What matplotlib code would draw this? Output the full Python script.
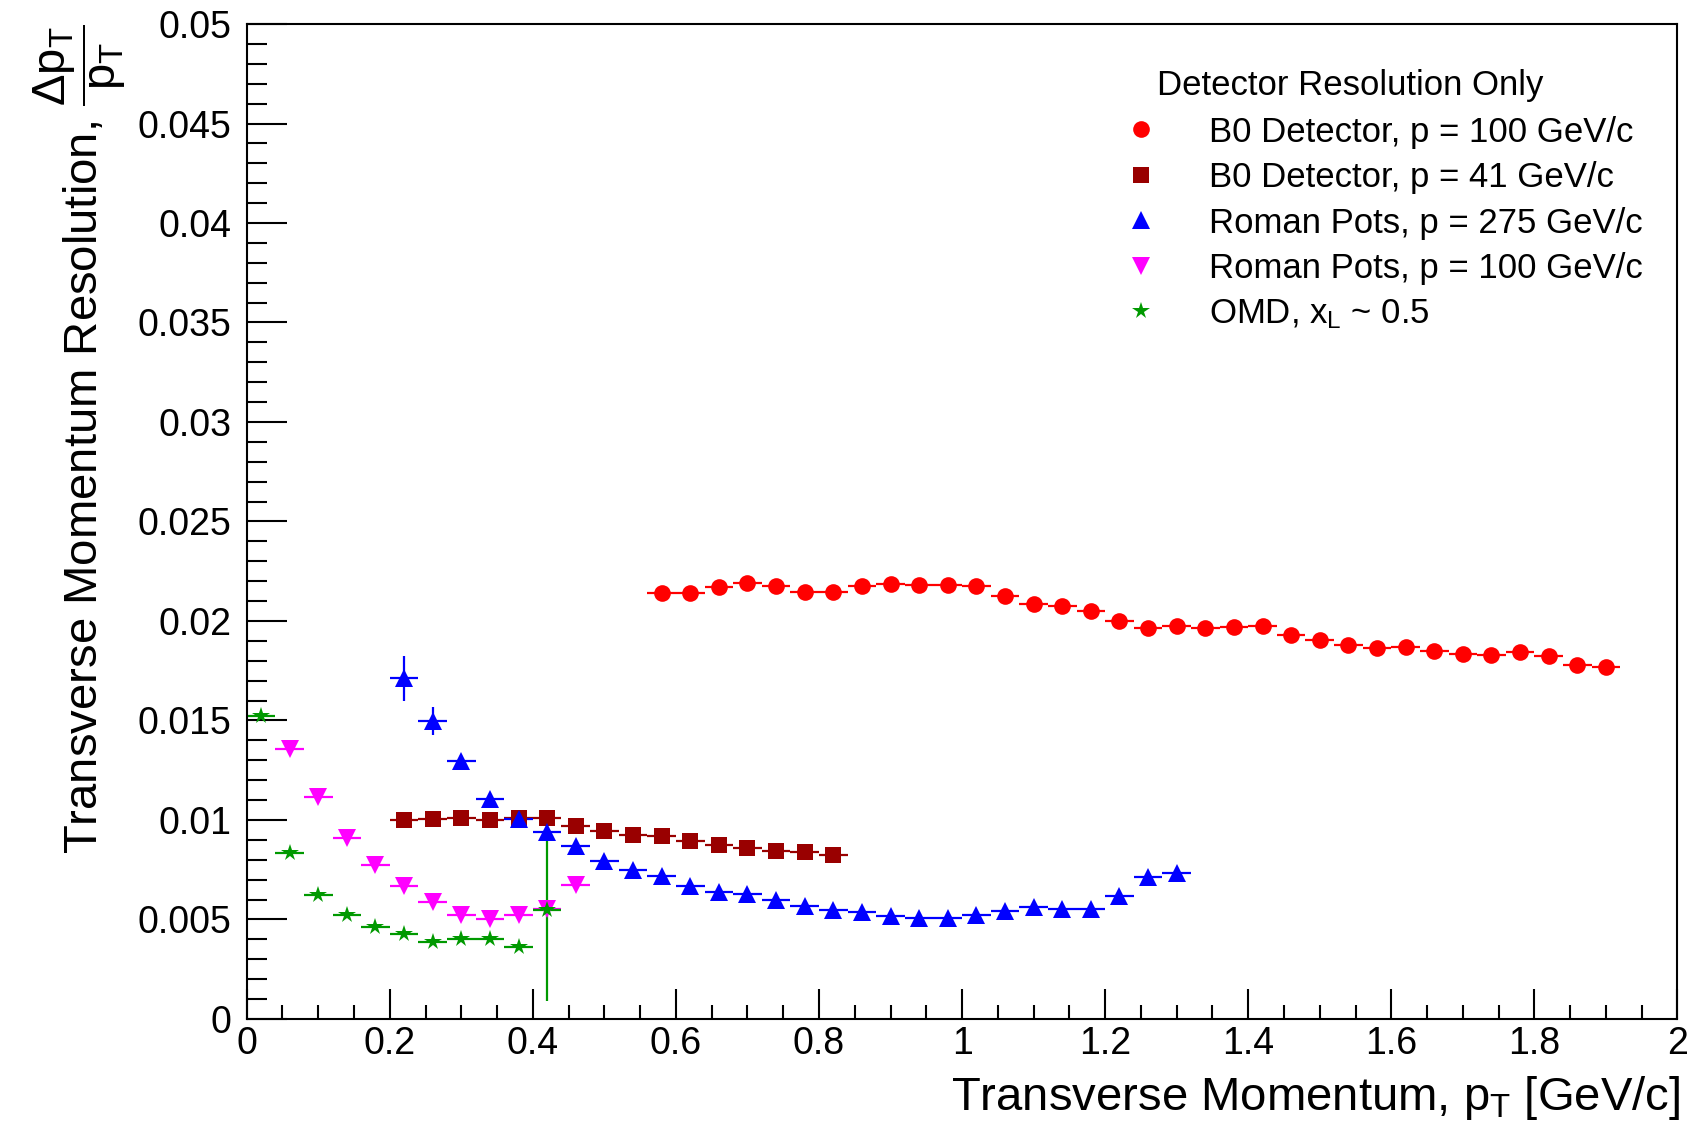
import matplotlib
matplotlib.use('Agg')
import matplotlib.pyplot as plt
from matplotlib.lines import Line2D
from matplotlib.ticker import MultipleLocator, FormatStrFormatter

# --- данные ---
bin_half = 0.02  # полуширина бина по pT

b0_100_pt = [0.58, 0.62, 0.66, 0.70, 0.74, 0.78, 0.82, 0.86, 0.90, 0.94, 0.98, 1.02,
             1.06, 1.10, 1.14, 1.18, 1.22, 1.26, 1.30, 1.34, 1.38, 1.42, 1.46, 1.50,
             1.54, 1.58, 1.62, 1.66, 1.70, 1.74, 1.78, 1.82, 1.86, 1.90]
b0_100_res = [0.02140, 0.02140, 0.02172, 0.02192, 0.02176, 0.02144, 0.02146, 0.02174,
              0.02186, 0.02180, 0.02179, 0.02174, 0.02124, 0.02087, 0.02073, 0.02049,
              0.02000, 0.01963, 0.01975, 0.01963, 0.01968, 0.01977, 0.01928, 0.01904,
              0.01880, 0.01865, 0.01871, 0.01849, 0.01832, 0.01827, 0.01842, 0.01822,
              0.01780, 0.01768]

b0_41_pt = [0.22, 0.26, 0.30, 0.34, 0.38, 0.42, 0.46, 0.50, 0.54, 0.58, 0.62, 0.66,
            0.70, 0.74, 0.78, 0.82]
b0_41_res = [0.00998, 0.01003, 0.01008, 0.01001, 0.01008, 0.01010, 0.00972, 0.00944,
             0.00927, 0.00917, 0.00894, 0.00873, 0.00857, 0.00846, 0.00839, 0.00826]

rp_275_pt = [0.22, 0.26, 0.30, 0.34, 0.38, 0.42, 0.46, 0.50, 0.54, 0.58, 0.62, 0.66,
             0.70, 0.74, 0.78, 0.82, 0.86, 0.90, 0.94, 0.98, 1.02, 1.06, 1.10, 1.14,
             1.18, 1.22, 1.26, 1.30]
rp_275_res = [0.01711, 0.01497, 0.01295, 0.01107, 0.01003, 0.00941, 0.00869, 0.00793,
              0.00748, 0.00718, 0.00669, 0.00640, 0.00626, 0.00600, 0.00567, 0.00548,
              0.00537, 0.00516, 0.00505, 0.00506, 0.00520, 0.00545, 0.00562, 0.00554,
              0.00554, 0.00616, 0.00715, 0.00736]
rp_275_err = [0.00113, 0.00070, 0.00030, 0.00020, 0.00015, 0.00012, 0.00010, 0.00010,
              0.00010, 0.00010, 0.00010, 0.00010, 0.00010, 0.00010, 0.00010, 0.00010,
              0.00010, 0.00010, 0.00010, 0.00010, 0.00010, 0.00010, 0.00010, 0.00010,
              0.00010, 0.00010, 0.00010, 0.00010]

rp_100_pt = [0.06, 0.10, 0.14, 0.18, 0.22, 0.26, 0.30, 0.34, 0.38, 0.42, 0.46]
rp_100_res = [0.01355, 0.01117, 0.00909, 0.00772, 0.00666, 0.00587, 0.00520, 0.00500,
              0.00520, 0.00554, 0.00671]

omd_pt = [0.02, 0.06, 0.10, 0.14, 0.18, 0.22, 0.26, 0.30, 0.34, 0.38, 0.42]
omd_res = [0.01520, 0.00832, 0.00622, 0.00523, 0.00461, 0.00429, 0.00387, 0.00404,
           0.00404, 0.00362, 0.00550]
omd_err = [0.00015, 0.00010, 0.00010, 0.00010, 0.00010, 0.00010, 0.00010, 0.00010,
           0.00010, 0.00010, 0.00460]

legend_labels = ['B0 Detector, p = 100 GeV/c',
                 'B0 Detector, p = 41 GeV/c',
                 'Roman Pots, p = 275 GeV/c',
                 'Roman Pots, p = 100 GeV/c',
                 'OMD, $x_{L}$ ~ 0.5']

# --- шрифты в стиле ROOT (Helvetica) ---
plt.rcParams['font.family'] = ['Liberation Sans', 'DejaVu Sans']
plt.rcParams['mathtext.fontset'] = 'custom'
plt.rcParams['mathtext.rm'] = 'Liberation Sans'
plt.rcParams['mathtext.it'] = 'Liberation Sans'
plt.rcParams['mathtext.bf'] = 'Liberation Sans:bold'


def creating_plot():
    fig = plt.figure(figsize=(16.91, 11.38), dpi=100)
    ax = fig.add_axes([0.1459, 0.1046, 0.8461, 0.8743])

    series = [
        (b0_100_pt, b0_100_res, None, 'o', '#ff0000', 12),
        (b0_41_pt, b0_41_res, None, 's', '#990000', 12),
        (rp_275_pt, rp_275_res, rp_275_err, '^', '#0000ff', 13),
        (rp_100_pt, rp_100_res, None, 'v', '#ff00ff', 13),
        (omd_pt, omd_res, omd_err, '*', '#009900', 13),
    ]
    handles = []
    for x, y, yerr, mk, col, ms in series:
        ax.errorbar(x, y, xerr=bin_half, yerr=yerr, fmt=mk, color=col, ms=ms,
                    mec=col, mew=0, elinewidth=1.6, capsize=0)
        handles.append(Line2D([], [], marker=mk, color=col, ls='none', ms=ms, mew=0))

    ax.set_xlim(0, 2)
    ax.set_ylim(0, 0.05)

    ax.xaxis.set_major_locator(MultipleLocator(0.2))
    ax.xaxis.set_minor_locator(MultipleLocator(0.05))
    ax.yaxis.set_major_locator(MultipleLocator(0.005))
    ax.yaxis.set_minor_locator(MultipleLocator(0.001))
    ax.xaxis.set_major_formatter(FormatStrFormatter('%g'))
    ax.yaxis.set_major_formatter(FormatStrFormatter('%g'))

    ax.tick_params(which='both', direction='in', top=False, right=False, width=1.5,
                   labelsize=27)
    ax.tick_params(axis='y', which='major', length=29, pad=11)
    ax.tick_params(axis='y', which='minor', length=14.5)
    ax.tick_params(axis='x', which='major', length=21.5, pad=5)
    ax.tick_params(axis='x', which='minor', length=10)
    for sp in ax.spines.values():
        sp.set_linewidth(1.5)

    # подписи осей
    ax.text(1.0015, -0.0915, 'Transverse Momentum, $p_{T}$ [GeV/c]', transform=ax.transAxes,
            ha='right', va='baseline', fontsize=34)
    ax.text(-0.1165, 1.0, r'Transverse Momentum Resolution, $\dfrac{\Delta p_{T}}{p_{T}}$',
            transform=ax.transAxes, rotation=90, rotation_mode='anchor',
            ha='right', va='center', fontsize=34)

    # легенда
    ax.text(0.636, 0.938, 'Detector Resolution Only', transform=ax.transAxes,
            ha='left', va='center', fontsize=25)
    ax.legend(handles, legend_labels, loc='upper left', bbox_to_anchor=(0.613, 0.908),
              frameon=False, fontsize=25, handlelength=1.0, handletextpad=1.45,
              labelspacing=0.36, borderpad=0, borderaxespad=0)

    plt.savefig('out.png', dpi=100)


def main():
    creating_plot()


if __name__ == '__main__':
    main()
